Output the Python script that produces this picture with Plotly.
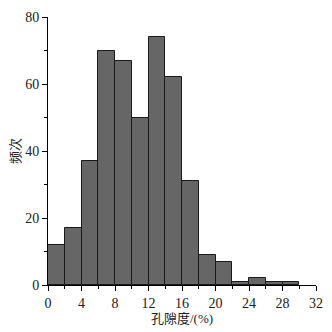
import plotly.graph_objects as go

bin_starts = [0, 2, 4, 6, 8, 10, 12, 14, 16, 18, 20, 22, 24, 26, 28]
counts = [12, 17, 37, 70, 67, 50, 74, 62, 31, 9, 7, 1, 2, 1, 1]
bin_width = 2
x_ticks = [0, 4, 8, 12, 16, 20, 24, 28, 32]
y_ticks = [0, 20, 40, 60, 80]

fig = go.Figure(go.Bar(
    x=[b + bin_width / 2 for b in bin_starts],
    y=counts,
    width=[bin_width] * len(bin_starts),
    marker=dict(color="#666666", line=dict(color="#1a1a1a", width=1)),
))

font = "Liberation Serif, Noto Sans CJK SC"
fig.update_layout(
    width=324, height=324,
    margin=dict(l=40, r=16, t=9, b=47, autoexpand=False),
    paper_bgcolor="white", plot_bgcolor="white",
    showlegend=False, bargap=0,
    font=dict(family=font, size=14, color="#222222"),
)
fig.update_xaxes(
    range=[0, 32], tickvals=x_ticks, ticks="outside", ticklen=5, tickcolor="black",
    showline=True, linecolor="black", linewidth=1, showgrid=False, zeroline=False,
    automargin=False,
    minor=dict(ticks="outside", ticklen=3, dtick=2, tickcolor="black"),
    title=dict(text="孔隙度/(%)", standoff=2, font=dict(size=13)),
)
fig.update_yaxes(
    range=[0, 80], tickvals=y_ticks, ticks="outside", ticklen=5, tickcolor="black",
    showline=True, linecolor="black", linewidth=1, showgrid=False, zeroline=False,
    automargin=False,
    minor=dict(ticks="outside", ticklen=3, dtick=10, tickcolor="black"),
    title=dict(text="频次", standoff=4, font=dict(size=13)),
)
fig.write_html("out.html")
